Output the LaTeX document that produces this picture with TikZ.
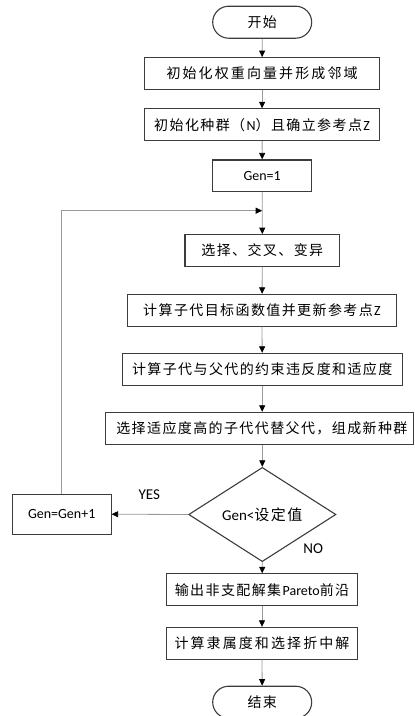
\documentclass[tikz,border=0pt]{standalone}
\usepackage{fontspec}
\setmainfont{Carlito}
\newfontfamily\cjk[LetterSpace=10]{Noto Sans CJK SC}
\newfontfamily\cjkw[LetterSpace=15]{Noto Sans CJK SC}
\usetikzlibrary{arrows.meta,shapes.geometric,shapes.misc}
\definecolor{edgegray}{HTML}{3C3C3C}
\definecolor{linegray}{HTML}{9A9A9A}
\tikzset{
  box/.style={draw=edgegray, line width=1.1pt, fill=white, inner sep=0pt,
    minimum height=31.7pt, font=\fontsize{14}{16}\selectfont},
  term/.style={box, rounded rectangle, minimum width=99pt, minimum height=32pt},
  decision/.style={draw=edgegray, line width=1.1pt, diamond, inner sep=0pt,
    minimum width=147.3pt, minimum height=59pt, font=\fontsize{15}{17}\selectfont},
  conn/.style={draw=linegray, line width=0.8pt,
    -{Triangle[color=black,length=6.5pt,width=6pt]}},
  lbl/.style={font=\fontsize{15}{17}\selectfont, inner sep=0pt}
}
\begin{document}
\begin{tikzpicture}[x=1pt,y=-1pt]
  \useasboundingbox (0,0) rectangle (415,716);

  % main column
  \node[term] (start) at (262.2,22.2) {\cjk 开始};
  \node[box, minimum width=235.2pt] (init1) at (262.1,73.5) {\cjkw 初始化权重向量并形成邻域};
  \node[box, minimum width=235.2pt] (init2) at (262.1,124.7) {\cjk 初始化种群（\textrm{N}）且确立参考点\textrm{Z}};
  \node[box, minimum width=99pt] (gen1) at (262.2,175.8) {Gen=1};
  \coordinate (join) at (262.2,210.7);
  \node[box, minimum width=154.7pt] (evo) at (262.3,250.5) {\cjk 选择、交叉、变异};
  \node[box, minimum width=269.4pt] (obj) at (262.0,310.2) {\cjk 计算子代目标函数值并更新参考点\textrm{Z}};
  \node[box, minimum width=280.3pt] (cv) at (262.2,369.2) {\cjk 计算子代与父代的约束违反度和适应度};
  \node[box, minimum width=307.3pt] (sel) at (259.4,428.2) {\hspace*{5pt}\cjk 选择适应度高的子代代替父代，组成新种群};
  \node[decision] (cond) at (262.3,514.5) {Gen<\cjk 设定值};
  \node[box, minimum width=98.7pt, minimum height=39.7pt] (inc) at (61.7,514.2) {Gen=Gen+1};
  \node[box, minimum width=191.4pt] (pareto) at (262.0,589.7) {\cjk 输出非支配解集\textrm{Pareto}前沿};
  \node[box, minimum width=191.4pt] (fuzzy) at (262.0,643.2) {\cjkw 计算隶属度和选择折中解};
  \node[term] (stop) at (262.2,702.2) {\cjk 结束};

  % branch labels
  \node[lbl] (yes) at (149.3,495) {YES};
  \node[lbl] (no) at (313.3,549) {NO};

  % connectors
  \draw[conn] (start) -- (init1);
  \draw[conn] (init1) -- (init2);
  \draw[conn] (init2) -- (gen1);
  \draw[conn] (gen1) -- (evo);
  \draw[conn] (evo) -- (obj);
  \draw[conn] (obj) -- (cv);
  \draw[conn] (cv) -- (sel.north -| cv.south);
  \draw[conn] (sel.south -| cond.north) -- (cond);
  \draw[conn] (cond.west) -- (inc.east);
  \draw[conn] (inc.north) |- (join);
  \draw[conn] (cond.south) -- (pareto);
  \draw[conn] (pareto) -- (fuzzy);
  \draw[conn] (fuzzy) -- (stop);
\end{tikzpicture}
\end{document}
